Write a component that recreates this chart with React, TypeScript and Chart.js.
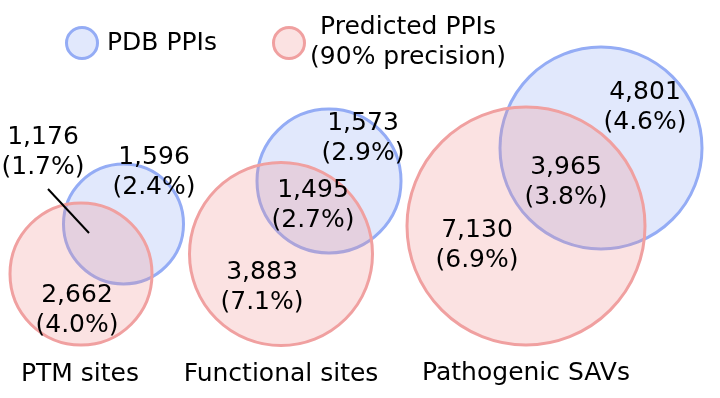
import { useEffect, useRef } from "react";
import { Chart, registerables } from "chart.js";

Chart.register(...registerables);

// ---- data ----
const groups = ["PTM sites", "Functional sites", "Pathogenic SAVs"];
const pdbOnlyCounts = [1596, 1573, 4801];
const pdbOnlyPct = [2.4, 2.9, 4.6];
const overlapCounts = [1176, 1495, 3965];
const overlapPct = [1.7, 2.7, 3.8];
const predOnlyCounts = [2662, 3883, 7130];
const predOnlyPct = [4.0, 7.1, 6.9];
const seriesNames = ["PDB PPIs", "Predicted PPIs"];
const seriesSubtitle = ["", "(90% precision)"];

// ---- layout (plot coordinates) ----
const pdbCircles = [
  { x: 123.5, y: 224, r: 60 },
  { x: 329, y: 181, r: 72 },
  { x: 601, y: 148, r: 101 },
];
const predCircles = [
  { x: 81, y: 274, r: 71 },
  { x: 281, y: 254, r: 91.5 },
  { x: 526, y: 226, r: 119 },
];
const pdbOnlyPos = [
  { x: 154, y: 157 },
  { x: 363, y: 123 },
  { x: 645, y: 92 },
];
const overlapPos = [
  { x: 43, y: 137 },
  { x: 313, y: 190 },
  { x: 566, y: 167 },
];
const predOnlyPos = [
  { x: 77, y: 295 },
  { x: 262, y: 272 },
  { x: 477, y: 230 },
];
const groupLabelPos = [
  { x: 80, y: 374 },
  { x: 281, y: 374 },
  { x: 526, y: 373 },
];
const pointerLine = { x1: 48, y1: 189, x2: 89, y2: 233 };

const BLUE_STROKE = "rgb(148,172,245)";
const BLUE_FILL = "rgba(120,150,240,0.22)";
const RED_STROKE = "rgb(240,160,160)";
const RED_FILL = "rgba(240,140,140,0.25)";
const FONT = '25px "DejaVu Sans", Verdana, sans-serif';

const fmt = (n: number) => n.toLocaleString("en-US");
const pct = (p: number) => `(${p.toFixed(1)}%)`;

const labelPlugin = {
  id: "vennLabels",
  afterDatasetsDraw(chart: any) {
    const { ctx } = chart;
    const xs = chart.scales.x;
    const ys = chart.scales.y;
    const px = (v: number) => xs.getPixelForValue(v);
    const py = (v: number) => ys.getPixelForValue(v);
    ctx.save();
    ctx.font = FONT;
    ctx.fillStyle = "#000";
    ctx.textAlign = "center";
    ctx.textBaseline = "middle";
    const twoLine = (pos: { x: number; y: number }, c: number, p: number) => {
      ctx.fillText(fmt(c), px(pos.x), py(pos.y));
      ctx.fillText(pct(p), px(pos.x), py(pos.y + 30));
    };
    groups.forEach((g, i) => {
      twoLine(pdbOnlyPos[i], pdbOnlyCounts[i], pdbOnlyPct[i]);
      twoLine(overlapPos[i], overlapCounts[i], overlapPct[i]);
      twoLine(predOnlyPos[i], predOnlyCounts[i], predOnlyPct[i]);
      ctx.fillText(g, px(groupLabelPos[i].x), py(groupLabelPos[i].y));
    });
    // pointer line
    ctx.strokeStyle = "#000";
    ctx.lineWidth = 2;
    ctx.beginPath();
    ctx.moveTo(px(pointerLine.x1), py(pointerLine.y1));
    ctx.lineTo(px(pointerLine.x2), py(pointerLine.y2));
    ctx.stroke();

    // legend
    const legend = [
      { cx: 82, cy: 43, fill: BLUE_FILL, stroke: BLUE_STROKE },
      { cx: 289, cy: 43, fill: RED_FILL, stroke: RED_STROKE },
    ];
    legend.forEach((l) => {
      ctx.beginPath();
      ctx.arc(px(l.cx), py(l.cy), 15.5, 0, Math.PI * 2);
      ctx.fillStyle = l.fill;
      ctx.fill();
      ctx.lineWidth = 3;
      ctx.strokeStyle = l.stroke;
      ctx.stroke();
    });
    ctx.fillStyle = "#000";
    ctx.textAlign = "left";
    ctx.fillText(seriesNames[0], px(107), py(43));
    ctx.textAlign = "center";
    ctx.fillText(seriesNames[1], px(408), py(27));
    ctx.fillText(seriesSubtitle[1], px(408), py(57));
    ctx.restore();
  },
};

export default function App() {
  const ref = useRef<HTMLCanvasElement | null>(null);
  useEffect(() => {
    document.body.style.margin = "0";
    const canvas = ref.current;
    if (!canvas) return;
    const chart = new Chart(canvas, {
      type: "bubble",
      data: {
        datasets: [
          {
            label: seriesNames[1],
            data: predCircles.map((c) => ({ x: c.x, y: c.y, r: c.r })),
            backgroundColor: RED_FILL,
            borderColor: RED_STROKE,
            borderWidth: 3,
          },
          {
            label: seriesNames[0],
            data: pdbCircles.map((c) => ({ x: c.x, y: c.y, r: c.r })),
            backgroundColor: BLUE_FILL,
            borderColor: BLUE_STROKE,
            borderWidth: 3,
          },
        ],
      },
      options: {
        animation: false,
        responsive: false,
        events: [],
        layout: { padding: 0, autoPadding: false },
        clip: false as any,
        plugins: {
          legend: { display: false },
          tooltip: { enabled: false },
        },
        scales: {
          x: { type: "linear", min: 0, max: 720, display: false },
          y: { type: "linear", min: 0, max: 398, reverse: true, display: false },
        },
      },
      plugins: [labelPlugin],
    });
    return () => chart.destroy();
  }, []);
  return (
    <div style={{ width: 720, height: 398, background: "#fff" }}>
      <canvas ref={ref} width={720} height={398} style={{ display: "block" }} />
    </div>
  );
}
